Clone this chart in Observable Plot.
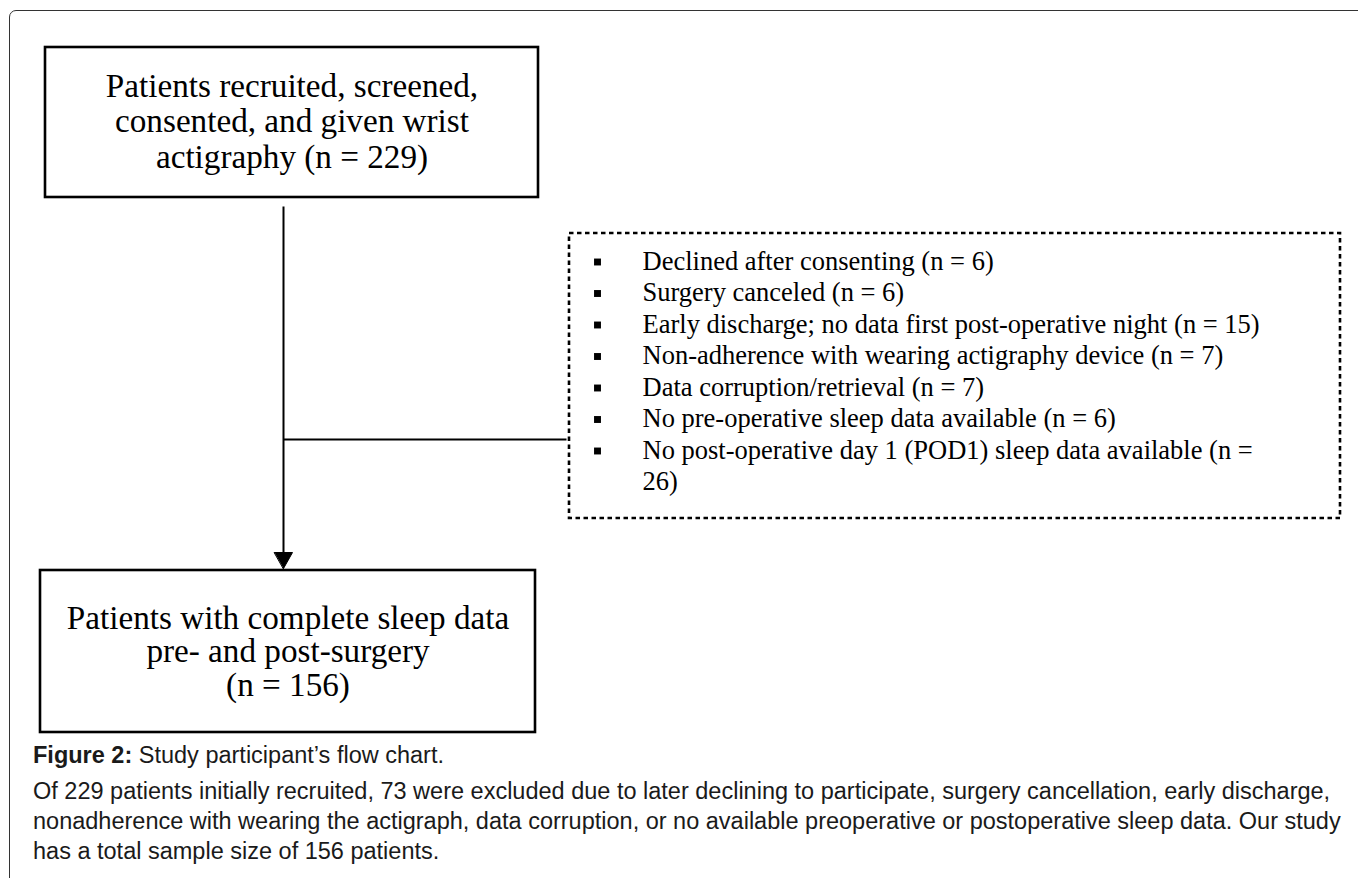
<!DOCTYPE html>
<html>
<head>
<meta charset="utf-8">
<script src="https://cdn.jsdelivr.net/npm/d3@7"></script>
<script src="https://cdn.jsdelivr.net/npm/@observablehq/plot@0.6"></script>
<style>
  html, body { margin: 0; padding: 0; background: #fff; width: 1358px; height: 878px; overflow: hidden; }
  #frame { position: absolute; left: 9px; top: 10px; width: 1420px; height: 960px; border: 1.3px solid #333; border-radius: 7px; box-sizing: border-box; }
  #chart { position: absolute; left: 0; top: 0; }
  #caption { position: absolute; left: 33px; top: 740px; width: 1320px; font-family: "Liberation Sans", Arial, sans-serif; font-size: 23.5px; line-height: 30px; color: #1a1a1a; }
  #caption p { margin: 0; }
  #caption p.title { margin-bottom: 6px; }
</style>
</head>
<body>
<div id="frame"></div>
<div id="chart"></div>
<div id="caption"></div>
<script>
// ---------- data ----------
const recruitedLines = ["Patients recruited, screened,", "consented, and given wrist", "actigraphy"];
const recruitedN = 229;
const exclusionReasons = [
  "Declined after consenting",
  "Surgery canceled",
  "Early discharge; no data first post-operative night",
  "Non-adherence with wearing actigraphy device",
  "Data corruption/retrieval",
  "No pre-operative sleep data available",
  "No post-operative day 1 (POD1) sleep data available"
];
const exclusionCounts = [6, 6, 15, 7, 7, 6, 26];
const finalLines = ["Patients with complete sleep data", "pre- and post-surgery"];
const finalN = 156;
const captionLabel = "Figure 2:";
const captionTitle = "Study participant’s flow chart.";
const captionBody = "Of 229 patients initially recruited, 73 were excluded due to later declining to participate, surgery cancellation, early discharge, nonadherence with wearing the actigraph, data corruption, or no available preoperative or postoperative sleep data. Our study has a total sample size of 156 patients.";

// ---------- layout ----------
const W = 1358, H = 740;
const serif = "Liberation Serif";
const boxFont = 33.2, listFont = 26.5;
const topBox = {x1: 45, x2: 538, y1: 47, y2: 197, first: 96, step: 35.5};
const finalBox = {x1: 40, x2: 535, y1: 570, y2: 732, first: 628, step: 33.5};
const exBox = {x1: 569, x2: 1340, y1: 233, y2: 518, textX: 642, bulletX: 597, first: 269, step: 31.5, wrap: 635};
const flowX = 283, flowY1 = 206, arrowTip = 568, arrowH = 16, arrowW = 18, branchY = 439;

// text wrapping using real font metrics
const ctx = document.createElement("canvas").getContext("2d");
ctx.font = `${listFont}px "${serif}"`;
function wrap(str, maxW) {
  const words = str.split(" "), lines = [];
  let cur = "";
  for (const w of words) {
    const t = cur ? cur + " " + w : w;
    if (cur && ctx.measureText(t).width > maxW) { lines.push(cur); cur = w; }
    else cur = t;
  }
  if (cur) lines.push(cur);
  return lines;
}

const topRows = [...recruitedLines.slice(0, -1), `${recruitedLines[recruitedLines.length - 1]} (n = ${recruitedN})`]
  .map((t, i) => ({t, x: (topBox.x1 + topBox.x2) / 2, y: topBox.first + i * topBox.step}));
const finalRows = [...finalLines, `(n = ${finalN})`]
  .map((t, i) => ({t, x: (finalBox.x1 + finalBox.x2) / 2, y: finalBox.first + i * finalBox.step}));

const listRows = [], bullets = [];
let li = 0;
exclusionReasons.forEach((r, k) => {
  const lines = wrap(`${r} (n = ${exclusionCounts[k]})`, exBox.wrap);
  bullets.push({x: exBox.bulletX, y: exBox.first + li * exBox.step - 7.5});
  lines.forEach(t => { listRows.push({t, x: exBox.textX, y: exBox.first + li * exBox.step}); li++; });
});

const solidBoxes = [topBox, finalBox];
const connectors = [
  {x1: flowX, y1: flowY1, x2: flowX, y2: arrowTip - arrowH + 2},
  {x1: flowX, y1: branchY, x2: exBox.x1 - 3, y2: branchY}
];
const head = [[flowX - arrowW / 2, arrowTip - arrowH], [flowX + arrowW / 2, arrowTip - arrowH], [flowX, arrowTip]];

const chart = Plot.plot({
  width: W, height: H, margin: 0,
  x: {domain: [0, W], range: [0, W], axis: null},
  y: {domain: [0, H], range: [0, H], axis: null},
  style: {background: "transparent"},
  marks: [
    Plot.rect(solidBoxes, {x1: "x1", x2: "x2", y1: "y1", y2: "y2", fill: "white", stroke: "black", strokeWidth: 2.6}),
    Plot.rect([exBox], {x1: "x1", x2: "x2", y1: "y1", y2: "y2", fill: "none", stroke: "black", strokeWidth: 2.6, strokeDasharray: "4.5,3.5"}),
    Plot.link(connectors, {x1: "x1", y1: "y1", x2: "x2", y2: "y2", stroke: "black", strokeWidth: 2}),
    Plot.line(head, {x: d => d[0], y: d => d[1], curve: "linear-closed", fill: "black", stroke: "black", strokeWidth: 1}),
    Plot.text(topRows, {x: "x", y: "y", text: "t", fontFamily: serif, fontSize: boxFont, textAnchor: "middle", lineAnchor: "bottom", fill: "black"}),
    Plot.text(finalRows, {x: "x", y: "y", text: "t", fontFamily: serif, fontSize: boxFont, textAnchor: "middle", lineAnchor: "bottom", fill: "black"}),
    Plot.dot(bullets, {x: "x", y: "y", symbol: "square", r: 3.9, fill: "black", stroke: "none"}),
    Plot.text(listRows, {x: "x", y: "y", text: "t", fontFamily: serif, fontSize: listFont, textAnchor: "start", lineAnchor: "bottom", fill: "black"})
  ]
});
document.getElementById("chart").appendChild(chart);

const cap = document.getElementById("caption");
const p1 = document.createElement("p"); p1.className = "title";
const b = document.createElement("b"); b.textContent = captionLabel;
p1.appendChild(b); p1.appendChild(document.createTextNode(" " + captionTitle));
const p2 = document.createElement("p"); p2.textContent = captionBody;
cap.appendChild(p1); cap.appendChild(p2);
</script>
</body>
</html>
